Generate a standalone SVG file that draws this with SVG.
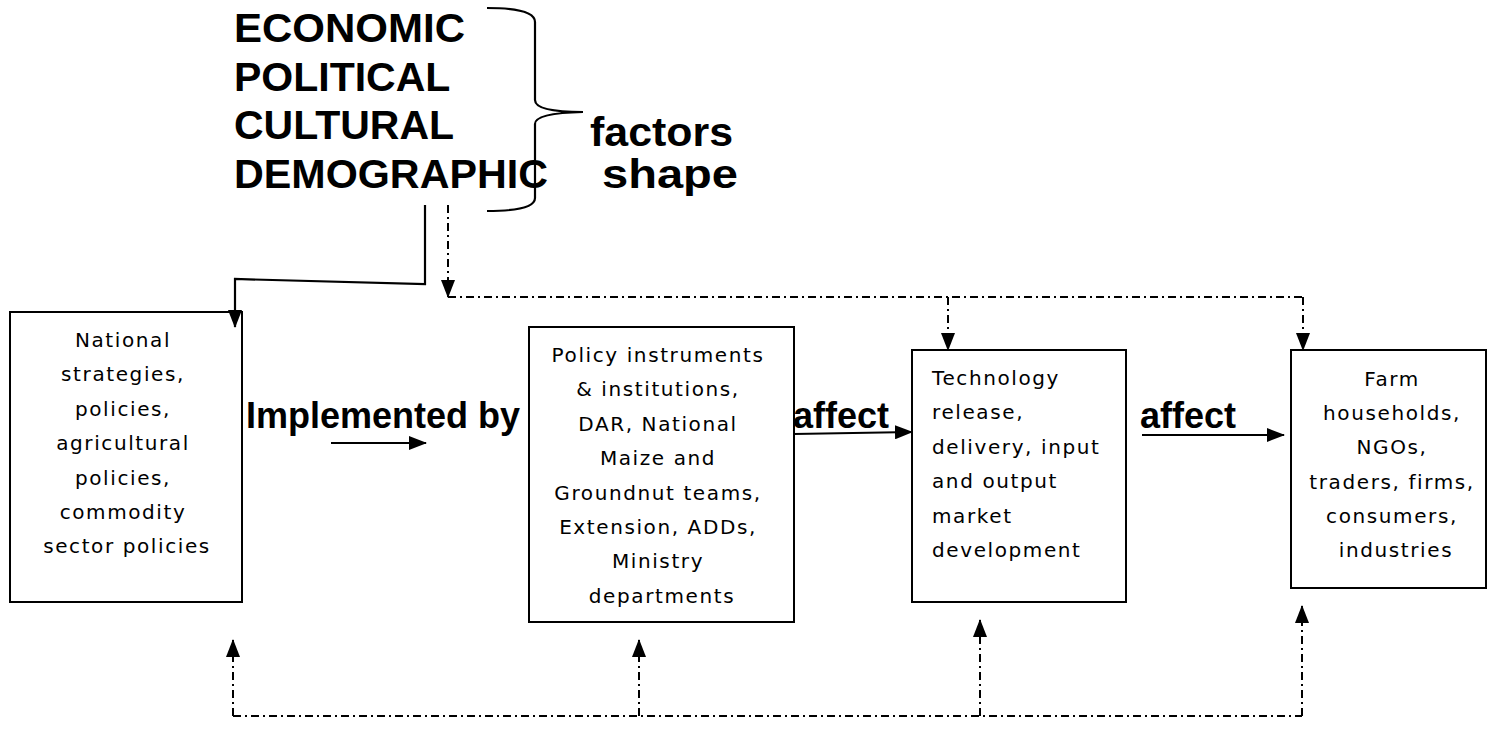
<svg xmlns="http://www.w3.org/2000/svg" width="1488" height="729" viewBox="0 0 1488 729">
<style>
.box{fill:#fff;stroke:#000;stroke-width:2}
.small{font-family:"DejaVu Sans",Verdana,sans-serif;font-size:20px;letter-spacing:1.6px;fill:#000}
.big{font-family:"Liberation Sans",Arial,sans-serif;font-weight:bold;fill:#000}
.solid{fill:none;stroke:#000;stroke-width:2.2}
.dd{fill:none;stroke:#000;stroke-width:2;stroke-dasharray:8 4 2 4}
</style>
<defs>
<marker id="ah" markerUnits="userSpaceOnUse" markerWidth="18" markerHeight="14" refX="17" refY="7" orient="auto">
<path d="M0,0 L18,7 L0,14 z" fill="#000"/>
</marker>
</defs>
<rect width="1488" height="729" fill="#fff"/>
<g id="factors">
<text class="big" font-size="41" x="234" y="42" textLength="231" lengthAdjust="spacingAndGlyphs">ECONOMIC</text>
<text class="big" font-size="41" x="234" y="90.5">POLITICAL</text>
<text class="big" font-size="41" x="234" y="139">CULTURAL</text>
<text class="big" font-size="41" x="234" y="187.5" textLength="314" lengthAdjust="spacingAndGlyphs">DEMOGRAPHIC</text>
<path class="solid" stroke-width="1.8" d="M487,8 Q535,8 535,22 V100 Q535,112 583,112 Q535,113 535,124 V198 Q535,211 487,211"/>
<text class="big" font-size="41" x="590" y="146" textLength="143" lengthAdjust="spacingAndGlyphs">factors</text>
<text class="big" font-size="41" x="602" y="187.5" textLength="136" lengthAdjust="spacingAndGlyphs">shape</text>
</g>
<g id="node1">
<rect class="box" x="10" y="312" width="232" height="290"/>
<text class="small" text-anchor="middle">
<tspan x="127" y="347">National</tspan>
<tspan x="127" y="381.4">strategies,</tspan>
<tspan x="127" y="415.8">policies,</tspan>
<tspan x="127" y="450.2">agricultural</tspan>
<tspan x="127" y="484.6">policies,</tspan>
<tspan x="127" y="519">commodity</tspan>
<tspan x="127" y="553.4">sector policies</tspan>
</text>
</g>
<g id="node2">
<rect class="box" x="529" y="327" width="265" height="295"/>
<text class="small" text-anchor="middle">
<tspan x="662" y="362">Policy instruments</tspan>
<tspan x="662" y="396.4">&amp; institutions,</tspan>
<tspan x="662" y="430.8">DAR, National</tspan>
<tspan x="662" y="465.2">Maize and</tspan>
<tspan x="662" y="499.6">Groundnut teams,</tspan>
<tspan x="662" y="534">Extension, ADDs,</tspan>
<tspan x="662" y="568.4">Ministry</tspan>
<tspan x="662" y="602.8">departments</tspan>
</text>
</g>
<g id="node3">
<rect class="box" x="912" y="350" width="214" height="252"/>
<text class="small">
<tspan x="932" y="385">Technology</tspan>
<tspan x="932" y="419.4">release,</tspan>
<tspan x="932" y="453.8">delivery, input</tspan>
<tspan x="932" y="488.2">and output</tspan>
<tspan x="932" y="522.6">market</tspan>
<tspan x="932" y="557">development</tspan>
</text>
</g>
<g id="node4">
<rect class="box" x="1291" y="350" width="195" height="238"/>
<text class="small" text-anchor="middle">
<tspan x="1396" y="386">Farm</tspan>
<tspan x="1396" y="420.2">households,</tspan>
<tspan x="1396" y="454.4">NGOs,</tspan>
<tspan x="1396" y="488.6">traders, firms,</tspan>
<tspan x="1396" y="522.8">consumers,</tspan>
<tspan x="1396" y="557">industries</tspan>
</text>
</g>
<g id="labels">
<text class="big" font-size="36" x="246" y="428">Implemented by</text>
<text class="big" font-size="36" x="793" y="428">affect</text>
<text class="big" font-size="36" x="1140" y="428">affect</text>
</g>
<g id="connectors">
<polyline class="solid" points="425,205 425,284 235,279 235,327" marker-end="url(#ah)"/>
<line class="solid" x1="331" y1="443" x2="426" y2="443" marker-end="url(#ah)"/>
<line class="solid" x1="794" y1="434" x2="912" y2="432" marker-end="url(#ah)"/>
<line class="solid" x1="1142" y1="435" x2="1284" y2="435" marker-end="url(#ah)"/>
<line class="dd" x1="448" y1="205" x2="448" y2="297" marker-end="url(#ah)"/>
<line class="dd" x1="448" y1="297" x2="1303" y2="297"/>
<line class="dd" x1="948" y1="297" x2="948" y2="350" marker-end="url(#ah)"/>
<line class="dd" x1="1303" y1="297" x2="1303" y2="350" marker-end="url(#ah)"/>
<line class="dd" x1="233" y1="716" x2="1302" y2="716"/>
<line class="dd" x1="233" y1="716" x2="233" y2="640" marker-end="url(#ah)"/>
<line class="dd" x1="639" y1="716" x2="639" y2="640" marker-end="url(#ah)"/>
<line class="dd" x1="980" y1="716" x2="980" y2="620" marker-end="url(#ah)"/>
<line class="dd" x1="1302" y1="716" x2="1302" y2="606" marker-end="url(#ah)"/>
</g>
</svg>
